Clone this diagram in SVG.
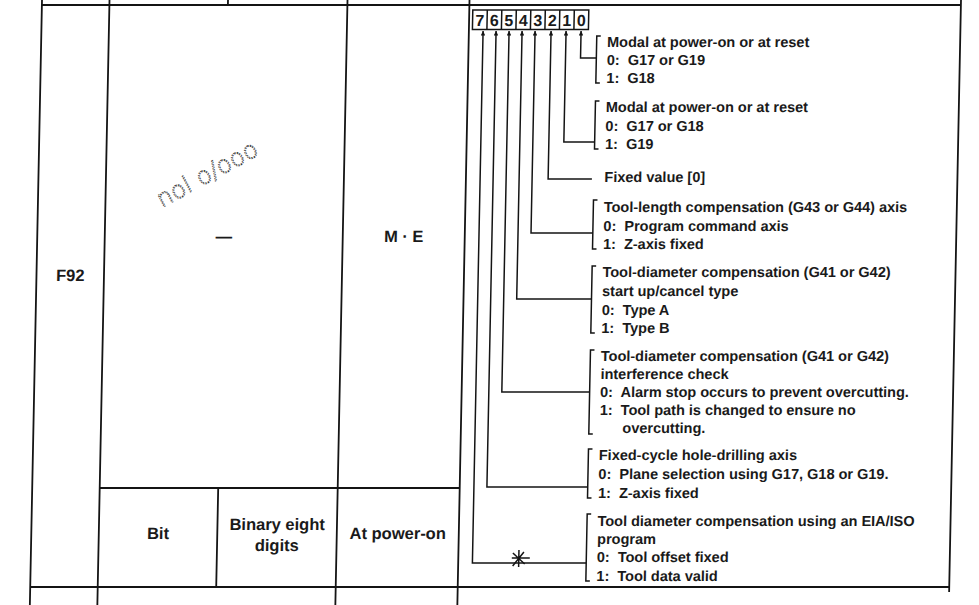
<svg xmlns="http://www.w3.org/2000/svg" width="979" height="605" viewBox="0 0 979 605">
<style>
.ln{stroke:#141414;stroke-width:1.8;fill:none}
.cn{stroke:#141414;stroke-width:1.5;fill:none}
.bx{stroke:#141414;stroke-width:1.5;fill:#fff}
.t{font-family:"Liberation Sans",Arial,sans-serif;font-size:14.5px;font-weight:bold;fill:#1a1a1a;white-space:pre}
.c{font-family:"Liberation Sans",Arial,sans-serif;font-size:16.5px;font-weight:bold;fill:#1a1a1a;text-anchor:middle}
.d{font-family:"Liberation Sans",Arial,sans-serif;font-size:16px;font-weight:bold;fill:#1a1a1a;text-anchor:middle}
.hw{font-family:"DejaVu Sans",sans-serif;font-size:24px;font-weight:200;fill:none;stroke:#333;stroke-width:0.8;stroke-dasharray:1.5 1}
</style>
<defs>
<marker id="ah" viewBox="0 0 10 10" refX="10" refY="5" markerUnits="userSpaceOnUse" markerWidth="8" markerHeight="4.5" orient="auto">
<path d="M0,0 L10,5 L0,10 z" fill="#141414"/>
</marker>
</defs>
<rect width="979" height="605" fill="#fff"/>
<g transform="skewX(-1.15)">
<g id="table">
<path class="ln" d="M42,5 H961 M42,587 H961 M109.5,488 H469.5"/>
<path class="ln" d="M42,0 V605 M109.5,0 V605 M347.5,0 V605 M469.5,0 V605 M961,0 V592 M228,0 V5 M228,488 V587"/>
</g>
<g id="cell-number"><text class="c" x="75.75" y="281">F92</text></g>
<g id="cell-name">
<text class="c" x="228.5" y="242">—</text>
<text class="hw" transform="translate(166,208) rotate(-29)">nol o/ooo</text>
</g>
<g id="cell-type"><text class="c" x="408.5" y="242">M · E</text></g>
<g id="cell-bit"><text class="c" x="168.75" y="539">Bit</text></g>
<g id="cell-range"><text class="c" x="287.75" y="530">Binary eight</text><text class="c" x="287.75" y="551">digits</text></g>
<g id="cell-valid"><text class="c" x="408.5" y="539">At power-on</text></g>
<g id="bits">
<rect class="bx" x="473" y="10" width="116" height="19.5"/>
<path class="bx" d="M487.5,10 V29.5 M502,10 V29.5 M516.5,10 V29.5 M531,10 V29.5 M545.5,10 V29.5 M560,10 V29.5 M574.5,10 V29.5"/>
<text class="d" x="480.25" y="26.5">7</text>
<text class="d" x="494.75" y="26.5">6</text>
<text class="d" x="509.25" y="26.5">5</text>
<text class="d" x="523.75" y="26.5">4</text>
<text class="d" x="538.25" y="26.5">3</text>
<text class="d" x="552.75" y="26.5">2</text>
<text class="d" x="567.25" y="26.5">1</text>
<text class="d" x="581.75" y="26.5">0</text>
</g>
<g id="connectors">
<path class="cn" marker-end="url(#ah)" d="M597.5,58 H581.7 V31"/>
<path class="cn" marker-end="url(#ah)" d="M597.5,142 H566.7 V31"/>
<path class="cn" marker-end="url(#ah)" d="M595.5,179 H551.7 V31"/>
<path class="cn" marker-end="url(#ah)" d="M597.5,233 H535.7 V31"/>
<path class="cn" marker-end="url(#ah)" d="M597.5,299 H522.7 V31"/>
<path class="cn" marker-end="url(#ah)" d="M597.5,392 H509.7 V31"/>
<path class="cn" marker-end="url(#ah)" d="M597.5,487 H496.7 V31"/>
<path class="cn" marker-end="url(#ah)" d="M597.5,563 H483.7 V31"/>
<path class="cn" d="M530,550 V567 M523,558 H541 M524,553 L536,564 M524,566 L535,552"/>
</g>
<g id="bit0">
<path class="cn" d="M601.5,36 H597.5 V83 H601.5"/>
<text class="t" x="608" y="47">Modal at power-on or at reset</text>
<text class="t" x="608" y="65">0:  G17 or G19</text>
<text class="t" x="608" y="83">1:  G18</text>
</g>
<g id="bit1">
<path class="cn" d="M601.5,101 H597.5 V149 H601.5"/>
<text class="t" x="608" y="112">Modal at power-on or at reset</text>
<text class="t" x="608" y="131">0:  G17 or G18</text>
<text class="t" x="608" y="149">1:  G19</text>
</g>
<g id="bit2">
<text class="t" x="608" y="182">Fixed value [0]</text>
</g>
<g id="bit3">
<path class="cn" d="M601.5,200 H597.5 V249 H601.5"/>
<text class="t" x="608" y="212">Tool-length compensation (G43 or G44) axis</text>
<text class="t" x="608" y="231">0:  Program command axis</text>
<text class="t" x="608" y="249">1:  Z-axis fixed</text>
</g>
<g id="bit4">
<path class="cn" d="M601.5,266 H597.5 V333 H601.5"/>
<text class="t" x="608" y="277">Tool-diameter compensation (G41 or G42)</text>
<text class="t" x="608" y="296">start up/cancel type</text>
<text class="t" x="608" y="315">0:  Type A</text>
<text class="t" x="608" y="333">1:  Type B</text>
</g>
<g id="bit5">
<path class="cn" d="M601.5,350 H597.5 V434 H601.5"/>
<text class="t" x="608" y="361">Tool-diameter compensation (G41 or G42)</text>
<text class="t" x="608" y="379">interference check</text>
<text class="t" x="608" y="397">0:  Alarm stop occurs to prevent overcutting.</text>
<text class="t" x="608" y="415">1:  Tool path is changed to ensure no</text>
<text class="t" x="631" y="433">overcutting.</text>
</g>
<g id="bit6">
<path class="cn" d="M601.5,449 H597.5 V498 H601.5"/>
<text class="t" x="608" y="460">Fixed-cycle hole-drilling axis</text>
<text class="t" x="608" y="479">0:  Plane selection using G17, G18 or G19.</text>
<text class="t" x="608" y="498">1:  Z-axis fixed</text>
</g>
<g id="bit7">
<path class="cn" d="M601.5,514 H597.5 V581 H601.5"/>
<text class="t" x="608" y="526">Tool diameter compensation using an EIA/ISO</text>
<text class="t" x="608" y="544">program</text>
<text class="t" x="608" y="562">0:  Tool offset fixed</text>
<text class="t" x="608" y="581">1:  Tool data valid</text>
</g>
</g>
</svg>
